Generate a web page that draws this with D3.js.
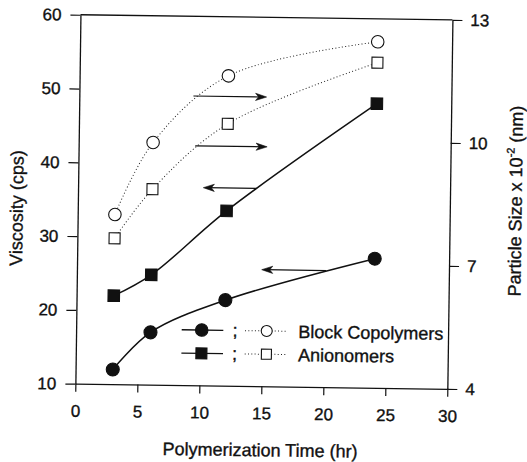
<!DOCTYPE html>
<html>
<head>
<meta charset="utf-8">
<script src="https://cdn.jsdelivr.net/npm/d3@7"></script>
<style>
  body { margin: 0; background: #fff; }
  svg { display: block; font-family: "Liberation Sans", Arial, Helvetica, sans-serif; }
  svg text { stroke: #111; stroke-width: 0.35px; }
</style>
</head>
<body>
<svg id="chart" width="527" height="462"></svg>
<script>
// Polymerization time (hr) at which samples were taken
const times = [3, 6, 12, 24];

// Viscosity (cps), left axis — filled symbols
const blockViscosity = [12.0, 17.1, 21.6, 27.5];
const anionViscosity = [22.0, 24.9, 33.7, 48.5];

// Particle size x 10^-2 (nm), right axis — open symbols
const blockSize = [8.14, 9.91, 11.56, 12.44];
const anionSize = [7.56, 8.77, 10.39, 11.93];

// Tick values
const xTicks = [0, 5, 10, 15, 20, 25, 30];
const viscosityTicks = [10, 20, 30, 40, 50, 60];
const sizeTicks = [4, 7, 10, 13];

// Arrows pointing each curve to its axis (time from tail to head, level in cps)
const arrowTail = [9.2, 9.4, 14.4, 20.1];
const arrowHead = [15.1, 15.2, 10.1, 14.9];
const arrowLevel = [49.2, 42.45, 36.8, 25.8];

// Legend rows
const legendLabels = ["Block Copolymers", "Anionomers"];
const legendShapes = ["circle", "square"];

const svg = d3.select("#chart");
const margin = { left: 77.9, top: 17.3 };
const width = 372, height = 369;
const cx = margin.left + width / 2, cy = margin.top + height / 2;

// the whole figure sits slightly tilted
const root = svg.append("g").attr("transform", `rotate(0.79, ${cx}, ${cy})`);
const g = root.append("g").attr("transform", `translate(${margin.left},${margin.top})`);

const x = d3.scaleLinear().domain([0, 30]).range([0, width]);
const yV = d3.scaleLinear().domain([10, 60]).range([height, 0]);
const yS = d3.scaleLinear().domain([4, 13]).range([height, 0]);

const ink = "#111";

// axes
const styleAxis = sel => {
  sel.selectAll("path.domain").attr("stroke", ink).attr("stroke-width", 1.3);
  sel.selectAll(".tick line").attr("stroke", ink).attr("stroke-width", 1.2);
  sel.selectAll(".tick text").attr("fill", ink).attr("font-size", 17)
     .attr("font-family", "Liberation Sans, Arial, sans-serif");
};

g.append("g").attr("transform", `translate(0,${height})`)
  .call(d3.axisBottom(x).tickValues(xTicks).tickSize(8).tickSizeOuter(0).tickPadding(13))
  .call(styleAxis);

g.append("g")
  .call(d3.axisLeft(yV).tickValues(viscosityTicks).tickSize(10).tickSizeOuter(0).tickPadding(9))
  .call(styleAxis);

g.append("g").attr("transform", `translate(${width},0)`)
  .call(d3.axisRight(yS).tickValues(sizeTicks).tickSize(10).tickSizeOuter(0).tickPadding(8))
  .call(styleAxis);

// top frame line
g.append("line").attr("x1", 0).attr("x2", width).attr("y1", 0).attr("y2", 0)
  .attr("stroke", ink).attr("stroke-width", 1.3);

// axis titles
root.append("text")
  .attr("transform", `translate(${cx - 0.5},${margin.top + height + 70})`)
  .attr("text-anchor", "middle").attr("font-size", 18).attr("fill", ink)
  .text("Polymerization Time (hr)");

root.append("text")
  .attr("transform", `translate(23,211.4) rotate(-90)`)
  .attr("text-anchor", "middle").attr("font-size", 18).attr("fill", ink)
  .text("Viscosity (cps)");

const rt = root.append("text")
  .attr("transform", `translate(521.7,197.5) rotate(-90)`)
  .attr("text-anchor", "middle").attr("font-size", 18).attr("fill", ink);
rt.append("tspan").text("Particle Size x 10");
rt.append("tspan").attr("font-size", 11).attr("dy", -8).text("-2");
rt.append("tspan").attr("dy", 8).text(" (nm)");

// curves
const curve = d3.curveCatmullRom.alpha(0.5);
const solidLine = ys => d3.line().x((d, i) => x(times[i])).y((d, i) => yV(ys[i])).curve(curve);
const dotLine = ys => d3.line().x((d, i) => x(times[i])).y((d, i) => yS(ys[i])).curve(curve);

[blockSize, anionSize].forEach(ys => {
  g.append("path").datum(ys).attr("d", dotLine(ys))
    .attr("fill", "none").attr("stroke", "#222").attr("stroke-width", 1)
    .attr("stroke-dasharray", "1 2.3");
});
[blockViscosity, anionViscosity].forEach(ys => {
  g.append("path").datum(ys).attr("d", solidLine(ys))
    .attr("fill", "none").attr("stroke", ink).attr("stroke-width", 1.5);
});

// arrows
arrowLevel.forEach((lv, i) => {
  const x0 = x(arrowTail[i]), x1 = x(arrowHead[i]), yy = yV(lv);
  const dir = Math.sign(x1 - x0);
  g.append("line").attr("x1", x0).attr("x2", x1 - dir * 3).attr("y1", yy).attr("y2", yy)
    .attr("stroke", ink).attr("stroke-width", 1.2);
  g.append("path")
    .attr("d", `M${x1},${yy} L${x1 - dir * 11},${yy - 3.6} L${x1 - dir * 8},${yy} L${x1 - dir * 11},${yy + 3.6} Z`)
    .attr("fill", ink).attr("stroke", ink).attr("stroke-width", 0.6).attr("stroke-linejoin", "miter");
});

// markers
function marker(sel, shape, filled, px, py, size) {
  if (shape === "circle") {
    sel.append("circle").attr("cx", px).attr("cy", py).attr("r", size / 2)
      .attr("fill", filled ? ink : "#fff").attr("stroke", ink).attr("stroke-width", 1.1);
  } else {
    sel.append("rect").attr("x", px - size / 2).attr("y", py - size / 2)
      .attr("width", size).attr("height", size)
      .attr("fill", filled ? ink : "#fff").attr("stroke", ink).attr("stroke-width", 1.1);
  }
}

times.forEach((t, i) => {
  marker(g, "circle", false, x(t), yS(blockSize[i]), 12.5);
  marker(g, "square", false, x(t), yS(anionSize[i]), 11);
  marker(g, "circle", true, x(t), yV(blockViscosity[i]), 13);
  marker(g, "square", true, x(t), yV(anionViscosity[i]), 11.5);
});

// legend
const legendRowY = [313.6, 336.9];
const leg = g.append("g");
legendLabels.forEach((label, i) => {
  const ry = legendRowY[i];
  leg.append("line").attr("x1", 105.6).attr("x2", 147.2).attr("y1", ry).attr("y2", ry)
    .attr("stroke", ink).attr("stroke-width", 1.4);
  marker(leg, legendShapes[i], true, 125.6, ry, legendShapes[i] === "circle" ? 12.5 : 11);
  leg.append("text").attr("x", 158.9).attr("y", ry + 6).attr("text-anchor", "middle")
    .attr("font-size", 18).attr("fill", ink).text(";");
  leg.append("line").attr("x1", 168.9).attr("x2", 210.6).attr("y1", ry).attr("y2", ry)
    .attr("stroke", "#222").attr("stroke-width", 1).attr("stroke-dasharray", "1 2.3");
  marker(leg, legendShapes[i], false, 190.6, ry, legendShapes[i] === "circle" ? 11 : 10);
  leg.append("text").attr("x", 222.2).attr("y", ry + 6.5)
    .attr("font-size", 18).attr("fill", ink).text(label);
});
</script>
</body>
</html>
